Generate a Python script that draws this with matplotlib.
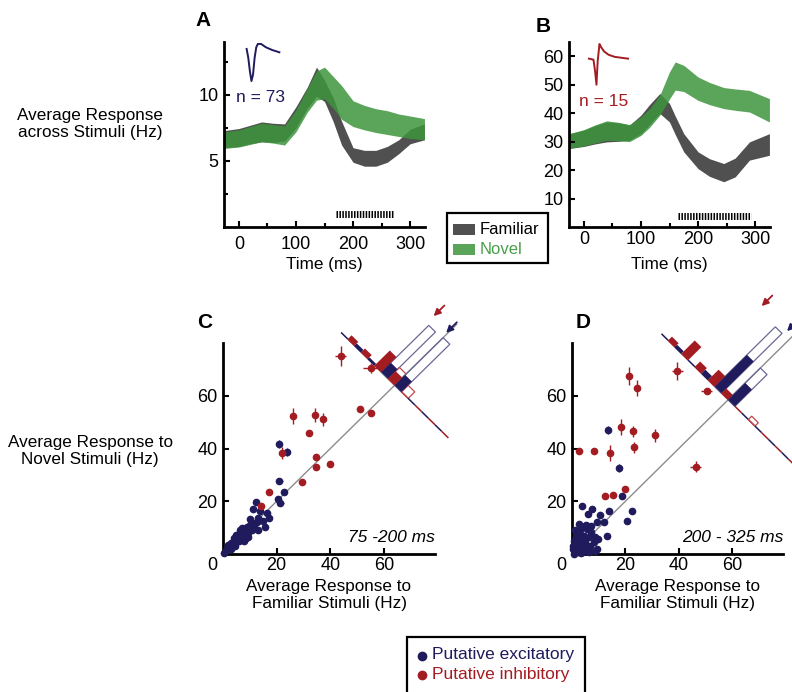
import numpy as np
import matplotlib.pyplot as plt
from matplotlib.patches import Polygon, Rectangle
from matplotlib.lines import Line2D

plt.rcParams['font.family'] = ['Liberation Sans', 'DejaVu Sans']
plt.rcParams['font.size'] = 12

NAVY = '#1f1b5c'
NAVY_L = '#6a6894'
RED = '#a31c22'
RED_L = '#c0494e'
GREY = '#505050'
GREEN = '#3d953d'
GREEN_TXT = '#4a9e4a'
DIAG = '#8c8c8c'

TICK_FS = 13
LAB_FS = 12.3

# ---- panel A / B : average response bands (Hz) ----
tA = [-25, 0, 20, 40, 60, 80, 100, 120, 136, 150, 165, 180, 200, 220, 240, 260, 280, 300, 325]
famA_lo = [6.0, 6.1, 6.3, 6.45, 6.4, 6.5, 7.5, 9.0, 9.9, 9.5, 8.0, 6.2, 4.9, 4.6, 4.6, 4.9, 5.55, 6.3, 6.6]
famA_hi = [7.3, 7.45, 7.7, 7.95, 7.85, 7.8, 9.1, 10.6, 12.1, 11.1, 9.8, 8.0, 6.0, 5.8, 5.8, 6.1, 6.6, 7.4, 7.8]
novA_lo = [5.95, 6.05, 6.25, 6.45, 6.35, 6.2, 7.2, 8.7, 9.6, 9.7, 9.0, 8.15, 7.6, 7.35, 7.15, 7.0, 6.85, 6.7, 6.6]
novA_hi = [7.2, 7.35, 7.6, 7.85, 7.75, 7.65, 8.85, 10.5, 11.8, 12.1, 11.4, 10.7, 9.55, 9.2, 8.95, 8.8, 8.55, 8.4, 8.2]

tB = [-25, 0, 20, 40, 60, 80, 100, 115, 133, 150, 160, 175, 200, 220, 245, 265, 290, 325]
famB_lo = [27.6, 28.3, 29.2, 29.9, 30.1, 30.5, 32.8, 36.0, 39.9, 36.9, 32.5, 26.4, 20.5, 17.8, 15.9, 17.6, 23.5, 25.2]
famB_hi = [32.8, 34.0, 35.6, 36.9, 36.6, 35.8, 39.3, 43.0, 46.9, 43.4, 39.0, 32.8, 26.4, 24.0, 22.3, 24.2, 29.9, 32.8]
novB_lo = [27.6, 28.5, 29.5, 30.5, 30.3, 30.0, 32.2, 35.0, 39.3, 45.0, 48.1, 47.6, 44.5, 43.0, 41.6, 41.0, 40.4, 36.9]
novB_hi = [32.8, 34.2, 35.9, 37.3, 36.8, 36.0, 38.7, 41.5, 46.3, 54.5, 58.0, 56.8, 52.7, 50.8, 49.0, 48.5, 48.0, 45.1]

sigA = (170, 272, 1.0)   # start, end, level
sigB = (165, 293, 3.9)

# mean waveforms (arbitrary units)
exc_wave_t = [0, 5, 10, 15, 20, 25, 30, 35, 45, 60, 80, 102]
exc_wave_v = [0.73, 0.27, -0.45, -1.0, -0.64, 0.27, 0.82, 1.0, 1.0, 0.82, 0.67, 0.55]
inh_wave_t = [0, 15, 20, 25, 29, 35, 40, 50, 65, 85, 110, 130]
inh_wave_v = [0.0, -0.04, -0.45, -1.0, -0.1, 0.56, 0.45, 0.28, 0.15, 0.07, 0.03, 0.0]

# ---- panel C : 75-200 ms ----
C_inh_x = [43.8, 55.0, 26.2, 34.3, 37.1, 50.9, 55.0, 32.1, 21.8, 34.8, 34.8, 40.0, 29.6, 17.2, 14.1]
C_inh_y = [75.0, 70.6, 52.3, 52.7, 51.0, 54.9, 53.3, 46.0, 38.4, 36.9, 33.1, 34.0, 27.3, 23.6, 18.3]
C_inh_xe = [2.0, 2.8, 1.0, 0.8, 0.8, 1.0, 0.8, 0.5, 0.8, 0.5, 0.5, 1.0, 0.8, 0.5, 0.5]
C_inh_ye = [3.8, 1.8, 3.0, 2.5, 2.5, 1.2, 0.8, 0.5, 2.2, 1.0, 1.0, 0.6, 0.5, 0.5, 0.5]

C_exc_x = [20.9, 23.9, 21.0, 22.6, 20.4, 21.4, 12.3, 11.1, 13.8, 16.4, 17.0, 10.1, 11.9, 14.8, 15.7,
           13.2, 8.8, 10.7, 7.5, 6.3, 5.0, 8.2, 4.4, 3.1, 1.9, 1.0, 0.3, 5.7, 6.9, 3.8, 2.5, 5.0,
           9.4, 6.3, 7.0, 8.0, 9.0, 10.0, 12.5, 4.0, 2.0, 6.0, 7.8, 3.0, 11.5, 9.5, 13.0, 4.5, 7.0, 8.5]
C_exc_y = [41.7, 38.8, 27.7, 23.5, 20.7, 19.2, 19.9, 17.0, 16.4, 15.4, 13.5, 13.1, 11.6, 12.6, 10.4,
           9.1, 10.4, 9.1, 8.5, 7.8, 7.2, 6.6, 5.3, 4.0, 2.8, 1.5, 0.3, 6.3, 5.9, 3.4, 2.1, 4.7,
           7.8, 9.1, 7.0, 8.0, 9.5, 11.0, 12.0, 6.0, 3.5, 5.0, 4.8, 1.8, 10.0, 6.5, 13.5, 3.0, 9.8, 6.0]
C_exc_xe = [0.5, 1.0, 1.2, 0.5, 0.5, 1.2, 0.5, 1.0, 0.5, 0.5, 1.0] + [0.4] * 39
C_exc_ye = [1.5, 1.5, 1.0, 0.5, 0.5, 0.8, 0.5, 0.8, 0.5, 0.6, 1.0] + [0.4] * 39

# diagonal histograms of (novel - familiar), bar lengths in axis units
C_edges = [40, 30, 20, 10, 0, -10, -20, -30, -40]
C_exc_sig = [0, 1.2, 0.8, 5.0, 5.5, 0, 0, 0]
C_exc_all = [0, 1.2, 0.8, 25.0, 25.5, 0, 0, 0]
C_inh_sig = [2.0, 2.0, 8.0, 4.0, 0, 0, 0, 0]
C_inh_all = [2.0, 2.0, 8.0, 6.0, 3.5, 0, 0, 0]
C_mean = {'exc': 0.7, 'inh': 11.7}

# ---- panel D : 200-325 ms ----
D_inh_x = [2.75, 8.1, 14.1, 21.5, 24.25, 39.4, 50.4, 18.4, 22.9, 23.4, 30.9, 46.25, 12.25, 15.4, 19.75]
D_inh_y = [39.2, 39.2, 38.2, 67.5, 62.8, 69.4, 61.8, 48.0, 46.5, 40.4, 45.0, 33.1, 22.0, 22.3, 24.8]
D_inh_xe = [0.5, 0.5, 0.8, 0.5, 0.5, 2.0, 2.0, 0.8, 0.8, 0.8, 0.8, 2.0, 0.4, 0.4, 0.4]
D_inh_ye = [1.0, 1.0, 3.0, 3.5, 3.0, 3.5, 0.8, 3.0, 2.0, 2.0, 2.5, 2.0, 0.4, 0.4, 0.4]

D_exc_x = [13.6, 17.5, 18.75, 3.75, 7.5, 6.0, 13.75, 22.5, 20.6, 10.6, 9.4, 11.9, 13.1, 4.4, 2.5,
           5.6, 7.25, 8.75, 9.75, 3.75, 1.9, 1.25, 3.1, 5.0, 6.9, 8.75, 0.6, 2.5, 6.25, 8.1, 4.4,
           5.6, 9.4, 1.9, 3.1, 4.75, 0.8, 1.5, 2.2, 3.5, 0.5, 1.2, 2.8, 4.2, 5.2, 7.0, 0.3, 6.5]
D_exc_y = [46.9, 32.5, 21.9, 18.1, 17.2, 15.3, 16.2, 16.3, 12.4, 14.6, 12.1, 12.1, 7.0, 7.0, 8.3,
           9.6, 8.3, 6.4, 5.7, 4.5, 3.2, 1.3, 1.9, 4.5, 3.2, 1.3, 0.0, 5.5, 6.4, 4.7, 2.6,
           1.3, 1.9, 7.0, 9.2, 10.8, 5.0, 6.5, 0.8, 0.5, 3.0, 9.0, 11.5, 6.0, 11.0, 10.5, 2.0, 0.6]
D_exc_xe = [0.5, 0.5, 0.5, 0.6, 0.5, 0.5, 1.0, 0.4, 0.4] + [0.4] * 39
D_exc_ye = [1.5, 1.5, 0.5, 1.2, 0.8, 0.5, 1.0, 0.4, 0.4] + [0.4] * 39

D_edges = [50, 40, 30, 20, 10, 0, -10, -20, -30, -40, -50]
D_exc_sig = [0, 1.2, 0, 2.0, 17.0, 9.0, 0, 0, 0, 0]
D_exc_all = [0, 1.2, 0, 2.0, 32.0, 17.0, 0, 0, 0, 0]
D_inh_sig = [2.0, 7.0, 2.8, 5.5, 2.5, 0, 0, 0, 0, 0]
D_inh_all = [2.0, 7.0, 2.8, 5.5, 2.5, 0, 1.8, 0, 0, 0]
D_mean = {'exc': 4.0, 'inh': 23.0}

W, H = 792, 692
fig = plt.figure(figsize=(W / 100, H / 100), dpi=100)


def fx(x):
    return x / W


def fy(y):
    return 1 - y / H


def box(l, t, r, b):
    return [l / W, 1 - b / H, (r - l) / W, (b - t) / H]


def style(ax, xpad):
    for s in ['top', 'right']:
        ax.spines[s].set_visible(False)
    for s in ['left', 'bottom']:
        ax.spines[s].set_linewidth(2)
    ax.tick_params(which='major', direction='in', length=4, width=1.5, labelsize=TICK_FS, pad=4)
    ax.tick_params(which='minor', direction='in', length=3, width=1.5)
    ax.tick_params(axis='x', pad=xpad)


def band_panel(rect, t, flo, fhi, nlo, nhi, sig, ylim, yticks, yminor, xpad):
    ax = fig.add_axes(rect)
    ax.fill_between(t, flo, fhi, color=GREY, lw=0)
    ax.fill_between(t, nlo, nhi, color=GREEN, alpha=0.85, lw=0)
    ax.hlines(sig[2], sig[0], sig[1], color='black', lw=5, linestyles=[(0, (0.22, 0.2))])
    ax.set_xlim(-26, 326)
    ax.set_ylim(*ylim)
    ax.set_xticks([0, 100, 200, 300])
    ax.set_xticks([50, 150, 250], minor=True)
    ax.set_yticks(yticks)
    ax.set_yticks(yminor, minor=True)
    style(ax, xpad)
    ax.set_xlabel('Time (ms)', fontsize=LAB_FS)
    ax.xaxis.set_label_coords(0.5, -(265 - 227) / 185)
    ax.xaxis.label.set_va('center')
    return ax


axA = band_panel(box(224, 42, 425, 227), tA, famA_lo, famA_hi, novA_lo, novA_hi, sigA,
                 (0, 14), [5, 10], [2.5, 7.5, 12.5], 6.5)
axB = band_panel(box(569, 42, 770, 227), tB, famB_lo, famB_hi, novB_lo, novB_hi, sigB,
                 (0, 65), [10, 20, 30, 40, 50, 60], [], 3)

# waveform insets
wa = fig.add_axes(box(245, 43, 281, 82))
wa.plot(exc_wave_t, exc_wave_v, color=NAVY, lw=1.4)
wa.set_ylim(-1.05, 1.05)
wa.axis('off')
wb = fig.add_axes(box(587, 43, 630, 86))
wb.plot(inh_wave_t, inh_wave_v, color=RED, lw=1.4)
wb.set_ylim(-1.05, 0.6)
wb.axis('off')

fig.text(fx(236), fy(97), 'n = 73', color=NAVY, fontsize=12.5, va='center')
fig.text(fx(579), fy(102), 'n = 15', color=RED, fontsize=12.5, va='center')


# ---- scatter panels ----
def diag_hist(ax, csum, edges, exc_sig, exc_all, inh_sig, inh_all):
    c = csum / 2.0
    v = np.array([1.0, 1.0]) / np.sqrt(2)

    def base(d):
        return np.array([c - d / 2.0, c + d / 2.0])

    for i in range(len(edges) - 1):
        hi, lo = edges[i], edges[i + 1]
        mid = (hi + lo) / 2.0
        parts = [(mid, hi, exc_sig[i], exc_all[i], NAVY, NAVY_L),
                 (lo, mid, inh_sig[i], inh_all[i], RED, RED_L)]
        for a, b, sg, tot, col, ecol in parts:
            p, q = base(a), base(b)
            ax.plot([p[0], q[0]], [p[1], q[1]], color=col, lw=1.1, clip_on=False,
                    solid_capstyle='butt', zorder=3)
            if tot > sg:
                ax.add_patch(Polygon([p, q, q + tot * v, p + tot * v], closed=True, fill=False,
                                     ec=ecol, lw=0.9, clip_on=False, zorder=3))
            if sg > 0:
                ax.add_patch(Polygon([p, q, q + sg * v, p + sg * v], closed=True, fc=col,
                                     ec='none', clip_on=False, zorder=4))


def mean_arrow(ax, csum, d, col):
    tip = np.array([(csum - d) / 2.0, (csum + d) / 2.0])
    ax.annotate('', xy=tip, xytext=tip + 4.0,
                arrowprops=dict(arrowstyle='-|>', color=col, lw=1.3, mutation_scale=10,
                                shrinkA=0, shrinkB=0),
                annotation_clip=False)


def scatter_panel(rect, ex, ey, exe, eye, ix, iy, ixe, iye, csum, edges, hist, label, diag_end):
    ax = fig.add_axes(rect)
    ax.plot([0, diag_end], [0, diag_end], color=DIAG, lw=1, clip_on=False, zorder=1)
    diag_hist(ax, csum, edges, *hist)
    ax.errorbar(ex, ey, xerr=exe, yerr=eye, fmt='o', ms=4.5, color=NAVY, mec=NAVY,
                elinewidth=1, capsize=0, clip_on=False, zorder=5)
    ax.errorbar(ix, iy, xerr=ixe, yerr=iye, fmt='o', ms=4.5, color=RED, mec=RED,
                elinewidth=1, capsize=0, clip_on=False, zorder=6)
    ax.set_xlim(0, 79)
    ax.set_ylim(0, 80)
    ax.set_xticks([20, 40, 60])
    ax.set_yticks([20, 40, 60])
    style(ax, 2)
    ax.text(1.0, (554 - 538) / 211, label, transform=ax.transAxes, ha='right', va='center',
            style='italic', fontsize=12.5)
    ax.text(-11 / 212, -12 / 211, '0', transform=ax.transAxes, ha='center', va='center',
            fontsize=TICK_FS)
    ax.set_xlabel('Average Response to\nFamiliar Stimuli (Hz)', fontsize=LAB_FS, linespacing=1.2)
    ax.xaxis.set_label_coords(0.5, -(595 - 554) / 211)
    ax.xaxis.label.set_va('center')
    return ax


axC = scatter_panel(box(223, 343, 435, 554), C_exc_x, C_exc_y, C_exc_xe, C_exc_ye,
                    C_inh_x, C_inh_y, C_inh_xe, C_inh_ye, 128,
                    C_edges, (C_exc_sig, C_exc_all, C_inh_sig, C_inh_all), '75 -200 ms', 87)
mean_arrow(axC, 168.7, C_mean['inh'], RED)
mean_arrow(axC, 167.0, C_mean['exc'], NAVY)

axD = scatter_panel(box(572, 343, 783, 554), D_exc_x, D_exc_y, D_exc_xe, D_exc_ye,
                    D_inh_x, D_inh_y, D_inh_xe, D_inh_ye, 117,
                    D_edges, (D_exc_sig, D_exc_all, D_inh_sig, D_inh_all), '200 - 325 ms', 95)
mean_arrow(axD, 165.0, D_mean['inh'], RED)
mean_arrow(axD, 165.0, D_mean['exc'], NAVY)

# ---- panel letters and side labels ----
for s, x, y in [('A', 203, 21), ('B', 543, 27), ('C', 205, 323), ('D', 583, 323)]:
    fig.text(fx(x), fy(y), s, fontsize=15, fontweight='bold', ha='center', va='center')

fig.text(fx(90), fy(124), 'Average Response\nacross Stimuli (Hz)', ha='center', va='center',
         fontsize=LAB_FS, linespacing=1.2)
fig.text(fx(90), fy(451), 'Average Response to\nNovel Stimuli (Hz)', ha='center', va='center',
         fontsize=LAB_FS, linespacing=1.2)

# ---- legends ----
fig.add_artist(Rectangle((fx(447), fy(263)), (548 - 447) / W, (263 - 213) / H,
                         transform=fig.transFigure, fill=False, lw=1.6, ec='black'))
fig.add_artist(Rectangle((fx(453), fy(235)), 22 / W, 11 / H, transform=fig.transFigure,
                         fc=GREY, ec='none'))
fig.add_artist(Rectangle((fx(453), fy(255)), 22 / W, 11 / H, transform=fig.transFigure,
                         fc=GREEN, alpha=0.85, ec='none'))
fig.text(fx(480), fy(229), 'Familiar', fontsize=12, va='center')
fig.text(fx(480), fy(249), 'Novel', fontsize=12, va='center', color=GREEN_TXT)

fig.add_artist(Rectangle((fx(407), fy(705)), (585 - 407) / W, (705 - 637) / H,
                         transform=fig.transFigure, fill=False, lw=1.6, ec='black', clip_on=False))
fig.add_artist(Line2D([fx(422)], [fy(656)], marker='o', ms=6, color=NAVY, transform=fig.transFigure))
fig.add_artist(Line2D([fx(422)], [fy(675)], marker='o', ms=6, color=RED, transform=fig.transFigure))
fig.text(fx(432), fy(655), 'Putative excitatory', fontsize=12.5, va='center', color=NAVY)
fig.text(fx(432), fy(674), 'Putative inhibitory', fontsize=12.5, va='center', color=RED)

fig.savefig('out.png', dpi=100)
